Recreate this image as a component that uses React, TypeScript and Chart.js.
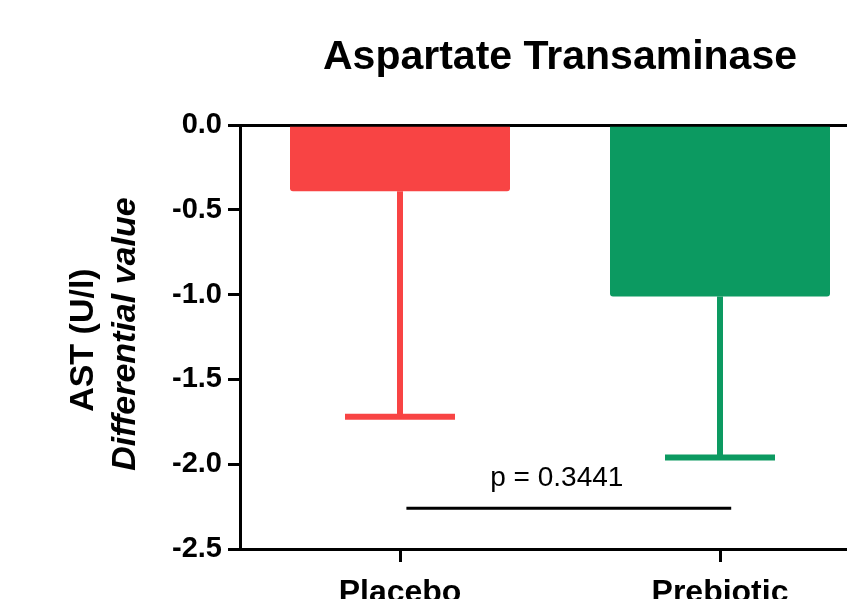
import React, { useEffect, useRef } from 'react';
import { Chart, registerables } from 'chart.js';

Chart.register(...registerables);

// ---- data ----
const categories = ['Placebo', 'Prebiotic'];
const meanValues = [-0.39, -1.01];
const errorEnds = [-1.72, -1.96];
const barColors = ['#F84444', '#0C9A61'];
const yTickValues = [0, -0.5, -1, -1.5, -2, -2.5];
const chartTitle = 'Aspartate Transaminase';
const yTitleLine1 = 'AST (U/l)';
const yTitleLine2 = 'Differential value';
const pValueText = 'p = 0.3441';
const pLineValue = -2.26;
const pLineFrom = 0.02;
const pLineTo = 1.035;
const pTextPos = 0.49;
const pTextValue = -2.13;

const FONT = "'Liberation Sans', Arial, Helvetica, sans-serif";
const CANVAS_W = 880;
const CANVAS_H = 640;

const overlayPlugin = {
  id: 'overlay',
  afterDatasetsDraw(chart: any) {
    const ctx = chart.ctx;
    const x = chart.scales.x;
    const y = chart.scales.y;
    const meta = chart.getDatasetMeta(0);
    ctx.save();
    // error bars
    meta.data.forEach((bar: any, i: number) => {
      const cx = bar.x;
      const yTop = y.getPixelForValue(meanValues[i]);
      const yBot = y.getPixelForValue(errorEnds[i]);
      const half = bar.width * 0.25;
      ctx.strokeStyle = barColors[i];
      ctx.lineWidth = 6;
      ctx.lineCap = 'butt';
      ctx.beginPath();
      ctx.moveTo(cx, yTop);
      ctx.lineTo(cx, yBot);
      ctx.stroke();
      ctx.beginPath();
      ctx.moveTo(cx - half, yBot);
      ctx.lineTo(cx + half, yBot);
      ctx.stroke();
    });
    // significance line
    const p0 = x.getPixelForValue(0);
    const p1 = x.getPixelForValue(1);
    const at = (v: number) => p0 + (p1 - p0) * v;
    ctx.strokeStyle = '#000';
    ctx.lineWidth = 3;
    ctx.beginPath();
    const ly = y.getPixelForValue(pLineValue);
    ctx.moveTo(at(pLineFrom), ly);
    ctx.lineTo(at(pLineTo), ly);
    ctx.stroke();
    ctx.fillStyle = '#000';
    ctx.font = `28px ${FONT}`;
    ctx.textAlign = 'center';
    ctx.textBaseline = 'alphabetic';
    ctx.fillText(pValueText, at(pTextPos), y.getPixelForValue(pTextValue));
    ctx.restore();
  },
  afterDraw(chart: any) {
    const ctx = chart.ctx;
    const area = chart.chartArea;
    const cy = (area.top + area.bottom) / 2;
    ctx.save();
    ctx.fillStyle = '#000';
    ctx.textAlign = 'center';
    ctx.textBaseline = 'alphabetic';
    ctx.translate(area.left - 147, cy + 3);
    ctx.rotate(-Math.PI / 2);
    ctx.font = `bold 34px ${FONT}`;
    ctx.fillText(yTitleLine1, 0, 0);
    ctx.restore();
    ctx.save();
    ctx.fillStyle = '#000';
    ctx.textAlign = 'center';
    ctx.textBaseline = 'alphabetic';
    ctx.translate(area.left - 105, cy - 3);
    ctx.rotate(-Math.PI / 2);
    ctx.font = `italic bold 34px ${FONT}`;
    ctx.fillText(yTitleLine2, 0, 0);
    ctx.restore();
  },
};

export default function App() {
  const ref = useRef<HTMLCanvasElement | null>(null);
  useEffect(() => {
    if (!ref.current) return;
    const chart = new Chart(ref.current, {
      type: 'bar',
      data: {
        labels: categories,
        datasets: [
          {
            data: meanValues,
            backgroundColor: barColors,
            borderWidth: 0,
            borderRadius: 3,
            categoryPercentage: 1,
            barPercentage: 0.6875,
          },
        ],
      },
      options: {
        animation: false,
        responsive: false,
        devicePixelRatio: 1,
        layout: { padding: 0 },
        plugins: {
          legend: { display: false },
          tooltip: { enabled: false },
          title: {
            display: true,
            fullSize: false,
            text: chartTitle,
            color: '#000',
            font: { family: FONT, size: 41, weight: 'bold' },
            padding: { top: 33, bottom: 43 },
          },
        },
        scales: {
          x: {
            type: 'category',
            offset: true,
            border: { display: true, color: '#000', width: 3 },
            grid: {
              display: true,
              offset: false,
              drawOnChartArea: false,
              drawTicks: true,
              tickLength: 13,
              tickWidth: 3,
              tickColor: '#000',
            },
            ticks: {
              color: '#000',
              padding: 12,
              font: { family: FONT, size: 32, weight: 'bold' },
            },
            afterFit: (s: any) => {
              s.height = CANVAS_H - 549;
            },
          },
          y: {
            min: -2.5,
            max: 0,
            z: 1,
            border: { display: true, color: '#000', width: 3 },
            grid: {
              display: true,
              drawOnChartArea: true,
              color: (c: any) => (c.tick && c.tick.value === 0 ? '#000' : 'rgba(0,0,0,0)'),
              lineWidth: 3,
              drawTicks: true,
              tickLength: 12,
              tickWidth: 3,
              tickColor: '#000',
            },
            afterBuildTicks: (s: any) => {
              s.ticks = yTickValues.map((v) => ({ value: v }));
            },
            ticks: {
              color: '#000',
              padding: 6,
              font: { family: FONT, size: 29, weight: 'bold' },
              callback: (v: any) => Number(v).toFixed(1),
            },
            afterFit: (s: any) => {
              s.width = 240;
            },
          },
        },
      },
      plugins: [overlayPlugin],
    } as any);
    return () => chart.destroy();
  }, []);

  return (
    <div
      style={{
        position: 'fixed',
        left: 0,
        top: 0,
        width: CANVAS_W,
        height: CANVAS_H,
        background: '#fff',
      }}
    >
      <canvas
        ref={ref}
        width={CANVAS_W}
        height={CANVAS_H}
        style={{ display: 'block', width: CANVAS_W, height: CANVAS_H }}
      />
    </div>
  );
}
